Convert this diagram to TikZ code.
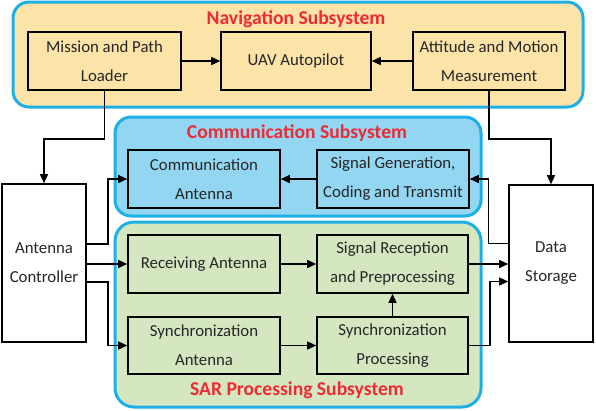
\documentclass[tikz,border=0pt]{standalone}
\usepackage{fontspec}
\setmainfont{Carlito}
\usetikzlibrary{arrows.meta}
\definecolor{navfill}{HTML}{FCE3A8}
\definecolor{comfill}{HTML}{92D6F1}
\definecolor{sarfill}{HTML}{D4E7C0}
\definecolor{grpline}{HTML}{1DB0E6}
\definecolor{titlered}{HTML}{EE2A35}
\tikzset{
	group/.style={draw=grpline, line width=3pt, rounded corners=16pt},
	blockbox/.style={draw=black, line width=1.6pt, minimum width=152pt, minimum height=58pt, align=center, text=black!85,
		font=\fontsize{16.8}{29}\selectfont, inner sep=0pt},
	sidebox/.style={blockbox, fill=white, minimum width=84pt, minimum height=158pt},
	grptitle/.style={text=titlered, font=\fontsize{19.6}{22}\selectfont\bfseries},
	link/.style={line width=1.4pt, -{Triangle[length=9pt,width=8pt]}},
}

\begin{document}
\begin{tikzpicture}[x=1pt,y=-1pt]
			%%%%% START %%%%%
			\useasboundingbox (0,0) rectangle (596,410);
			
			\draw[group, fill=navfill] (13, 2) rectangle (583, 107);
			\draw[group, fill=comfill] (115, 117) rectangle (481, 216);
			\draw[group, fill=sarfill, rounded corners=19pt] (115, 222) rectangle (481, 407);
			
			\node[grptitle] (navtitle) at (296, 19) {Navigation Subsystem};
			\node[grptitle] (comtitle) at (297, 133) {Communication Subsystem};
			\node[grptitle] (sartitle) at (297, 390) {SAR Processing Subsystem};
			
			\node[blockbox, fill=navfill, minimum width=153pt] (mission) at (104.5, 61) {Mission and Path\\Loader};
			\node[blockbox, fill=navfill, minimum width=150pt] (autopilot) at (296, 61) {UAV Autopilot};
			\node[blockbox, fill=navfill] (attitude) at (489, 61) {Attitude and Motion\\Measurement};
			
			\node[blockbox, fill=comfill] (comant) at (204, 179) {Communication\\Antenna};
			\node[blockbox, fill=comfill] (siggen) at (393, 179) {Signal Generation,\\Coding and Transmit};
			
			\node[blockbox, fill=sarfill] (recvant) at (204, 264) {Receiving Antenna};
			\node[blockbox, fill=sarfill, minimum width=151pt] (sigrec) at (392.5, 264) {Signal Reception\\and Preprocessing};
			\node[blockbox, fill=sarfill, minimum height=57pt] (syncant) at (204, 345.5) {Synchronization\\Antenna};
			\node[blockbox, fill=sarfill, minimum width=151pt, minimum height=57pt] (syncproc) at (392.5, 345.5) {Synchronization\\Processing};
			
			\node[sidebox] (ctrl) at (44, 263) {Antenna\\Controller};
			\node[sidebox, minimum height=157pt] (storage) at (551, 263.5) {Data\\Storage};
			
			% navigation links
			\draw[link] (mission.east) -- (autopilot.west);
			\draw[link] (attitude.west) -- (autopilot.east);
			\draw[link] (mission.south) -- ++(0, 48) -| (ctrl.north);
			\draw[link] (attitude.south) -- ++(0, 48) -| (storage.north);
			
			% communication links
			\draw[link] (siggen.west) -- (comant.east);
			\draw[link] ([yshift=20pt]storage.west) -- ++(-20, 0) |- (siggen.east);
			\draw[link] ([yshift=19pt]ctrl.east) -- ++(21, 0) |- (comant.west);
			
			% SAR links
			\draw[link] (ctrl.east |- recvant.west) -- (recvant.west);
			\draw[link] ([yshift=-19pt]ctrl.east) -- ++(21, 0) |- (syncant.west);
			\draw[link] (recvant.east) -- (sigrec.west);
			\draw[link] (syncant.east) -- (syncproc.west);
			\draw[link] (syncproc.north) -- (sigrec.south);
			\draw[link] (sigrec.east) -- (sigrec.east -| storage.west);
			\draw[link] (syncproc.east) -- ++(21, 0) |- ([yshift=-18pt]storage.west);
			%%%%% END %%%%%
		\end{tikzpicture}
\end{document}
